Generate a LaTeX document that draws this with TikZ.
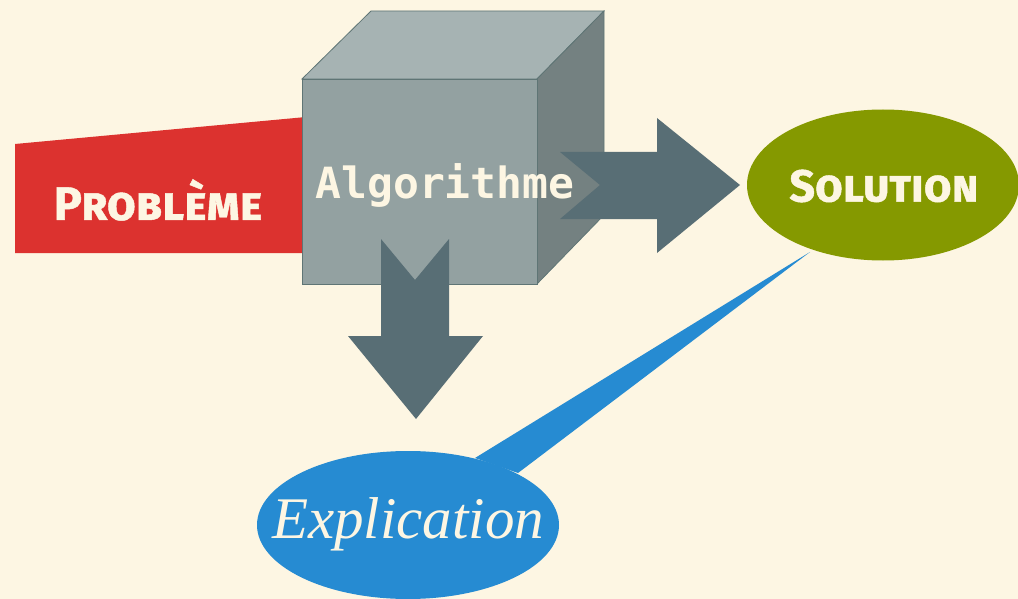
\documentclass[tikz,border=0pt]{standalone}
\usepackage{fontspec}
\usetikzlibrary{shapes.geometric}
\newfontfamily\scfont{Fira Sans}[UprightFeatures={Letters=SmallCaps},BoldFeatures={Letters=SmallCaps,FakeBold=1}]
\newfontfamily\monofont{DejaVu Sans Mono}
\newfontfamily\serifit{Liberation Serif}
\definecolor{bg}{HTML}{FDF6E3}
\definecolor{redc}{HTML}{DC322F}
\definecolor{greenc}{HTML}{859900}
\definecolor{bluec}{HTML}{268BD2}
\definecolor{arrowc}{HTML}{586E75}
\definecolor{cubefront}{HTML}{93A1A1}
\definecolor{cubetop}{HTML}{A6B3B3}
\definecolor{cubeside}{HTML}{748181}
\definecolor{cubeedge}{HTML}{5F7575}
\tikzset{
  cubeface/.style={draw=cubeedge, line width=0.8pt, line join=miter},
  blockarrow/.style={fill=arrowc},
  label/.style={text=bg, inner sep=0pt},
  bubble/.style={ellipse, inner sep=0pt},
}
\begin{document}
\begin{tikzpicture}[x=1pt,y=-1pt]
\fill[bg] (0,0) rectangle (1018,599);
\useasboundingbox (0,0) rectangle (1018,599);
% red banner
\fill[redc] (15,144) -- (306,117) -- (306,253) -- (15,253) -- cycle;
% cube
\filldraw[cubeface, fill=cubetop] (302,79) -- (371,11) -- (604,11) -- (537,79) -- cycle;
\filldraw[cubeface, fill=cubeside] (537,79) -- (604,11) -- (604,215) -- (537,284) -- cycle;
\filldraw[cubeface, fill=cubefront] (302,79) rectangle (537,284);
% down arrow
\fill[blockarrow] (381,239) -- (415,280) -- (449,239) -- (449,336) -- (483,336) -- (416,419) -- (348,336) -- (381,336) -- cycle;
% right arrow
\fill[blockarrow] (560,152) -- (657,152) -- (657,118) -- (740,185) -- (657,253) -- (657,219) -- (560,219) -- (600,185) -- cycle;
% callout wedge
\fill[bluec] (475,458) -- (810,252) -- (518,473) -- cycle;
% ellipses
\node[bubble, fill=greenc, minimum width=272pt, minimum height=151pt] (sol) at (883,185) {};
\node[bubble, fill=bluec, minimum width=302pt, minimum height=148pt] (expl) at (408,525) {};
% texts
\node[label, font=\scfont\bfseries\fontsize{47}{47}\selectfont] (prob) at (158,200) {Problème};
\node[label, font=\monofont\bfseries\fontsize{43}{43}\selectfont] (algo) at (445,185) {Algorithme};
\node[label, font=\scfont\bfseries\fontsize{45}{45}\selectfont] (soltext) at (884,186) {Solution};
\node[label, font=\serifit\itshape\fontsize{59}{59}\selectfont] (expltext) at (408,524) {Explication};
\end{tikzpicture}
\end{document}
